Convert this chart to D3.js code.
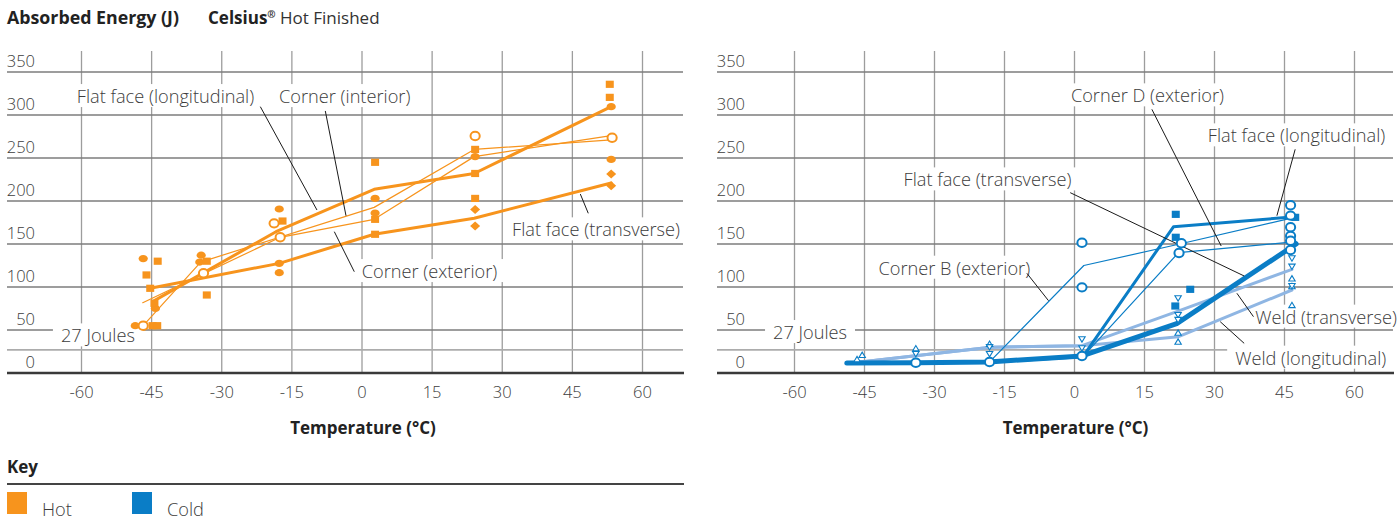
<!DOCTYPE html>
<html>
<head>
<meta charset="utf-8">
<script src="https://cdn.jsdelivr.net/npm/d3@7"></script>
<style>
  html, body { margin: 0; padding: 0; background: #fff; }
  svg { display: block; font-family: "Open Sans", "DejaVu Sans", sans-serif; }
</style>
</head>
<body>
<svg id="chart" width="1400" height="526"></svg>
<script>
// ---------- axis ticks ----------
const temperatureTicks = [-60, -45, -30, -15, 0, 15, 30, 45, 60];
const temperatureTickLabels = ["-60", "-45", "-30", "-15", "0", "15", "30", "45", "60"];
const energyTicks = [0, 50, 100, 150, 200, 250, 300, 350];
const joulesLimit = 27;

// ---------- Hot finished: mean curves [°C, J] ----------
const hotFlatLong   = [[-44.8, 83], [-18.4, 164.3], [2.6, 213.6], [24, 232], [53.3, 309.7]];
const hotFlatTrans  = [[-45.3, 98.5], [-17.7, 127.5], [2.6, 161.3], [24, 180], [53.3, 221]];
const hotCornerInt  = [[-46.8, 55], [-34.5, 129], [2.6, 192.6], [24, 260], [53.3, 271]];
const hotCornerExt  = [[-46.9, 81.7], [-17.5, 157.8], [2.6, 178.7], [24, 251.6], [53.3, 276]];

// Hot finished: individual specimens
const hotDots     = [[-46.8, 133], [-48.5, 55], [-44.2, 75], [-34.4, 137], [-34.7, 129], [-17.7, 190.7],
                     [-17.7, 127.5], [-17.7, 116.6], [2.8, 203], [2.8, 186], [24.2, 251.6], [53.3, 309.7], [53.3, 248.4]];
const hotSquares  = [[-43.7, 130], [-46.1, 114], [-45.3, 98.5], [-44.4, 81], [-44.8, 55], [-43.8, 55],
                     [-33.2, 130], [-33.2, 90.7], [-17, 176.7], [2.8, 245], [2.8, 178.7], [2.8, 161.3],
                     [24.2, 260], [24.2, 232], [24.2, 203], [53, 335.7], [53, 320.5]];
const hotRings    = [[-46.8, 55], [-33.9, 116], [-18.8, 174], [-17.5, 157.8], [24.2, 275.6], [53.5, 273.6]];
const hotDiamonds = [[24.2, 190], [24.2, 171], [53.3, 231.4], [53.3, 217.8]];

// ---------- Cold finished: mean curves ----------
const coldFlatLong  = [[-48.8, 11.5], [-33.8, 12], [-18.4, 12.8], [1.8, 19], [21.2, 170], [47.3, 181.7]];
const coldFlatTrans = [[-48.8, 11.5], [-33.8, 12], [-18.4, 12.8], [1.6, 19.8], [21.9, 57.5], [47.5, 150]];
const coldCornerB   = [[-18.2, 13], [2, 125], [21.6, 148.8], [46.5, 180]];
const coldCornerD   = [[1.8, 19], [22.3, 140], [47.5, 152.7]];
const coldWeldTrans = [[-47.3, 12], [-18, 29.9], [1.6, 31.8], [21.9, 71.3], [46.6, 120.6]];
const coldWeldLong  = [[-47.3, 12], [-18, 29.9], [1.6, 31.8], [22.3, 42.2], [46.6, 96.5]];

// Cold finished: individual specimens
const coldRings    = [[1.6, 151.5], [1.6, 99.6], [-34, 12], [-18.2, 12.8], [1.6, 19.8], [22.9, 150.8], [22.4, 139.5],
                      [46.3, 195], [46.3, 183], [46.3, 169.4], [46.3, 159.3], [46.3, 153.8], [46.3, 143]];
const coldSquares  = [[21.7, 184.5], [21.7, 157.8], [24.8, 97.3], [21.6, 77.9], [47.3, 181]];
const coldTriDown  = [[-34, 22], [-18.2, 30], [-18.2, 22], [1.6, 39.2], [1.6, 28.7], [22.2, 86.8], [22.2, 67.4],
                      [22.2, 61.6], [46.6, 133.3], [46.6, 123.6], [46.6, 101]];
const coldTriUp    = [[-46.6, 16], [-45.5, 21], [-34, 28.7], [-18.2, 34], [22.2, 46.9], [22.2, 36.4],
                      [46.6, 110], [46.6, 101], [46.6, 79]];

// ---------- styling ----------
const HOT = "#f7941d";
const COLD = "#0a7dc6";
const WELD = "#8fb6e3";
const INK = "#3c3c3c";
const LABEL_SIZE = 18.2;

const svg = d3.select("#chart");

const y = d3.scaleLinear().domain([0, 350]).range([373, 72]);

const panels = [
  {
    left: 7, right: 683,
    x: d3.scaleLinear().domain([-60, 60]).range([81.5, 642.5]),
    series: [
      { pts: hotCornerInt, color: HOT, w: 1.2 },
      { pts: hotCornerExt, color: HOT, w: 1.2 },
      { pts: hotFlatTrans, color: HOT, w: 3 },
      { pts: hotFlatLong,  color: HOT, w: 3 }
    ],
    markers: { dots: hotDots, squares: hotSquares, rings: hotRings, diamonds: hotDiamonds, up: [], down: [] },
    color: HOT,
    joules: { t: -64.4, e: 43 },
    labels: [
      { text: "Flat face (longitudinal)", t: -61, e: 321.3, from: [-21.75, 309.7], to: [-9.63, 189.5] },
      { text: "Corner (interior)",        t: -17.75, e: 321.3, from: [-7.85, 304.7], to: [-3.42, 182.9] },
      { text: "Corner (exterior)",        t: -0.06, e: 117.8, from: [-1.65, 117.8], to: [-5.92, 164.3] },
      { text: "Flat face (transverse)",   t: 32.1, e: 166.3, from: [48.4, 185.7], to: [46.7, 208.1] }
    ]
  },
  {
    left: 717, right: 1393,
    x: d3.scaleLinear().domain([-60, 60]).range([794.5, 1354.5]),
    series: [
      { pts: coldWeldLong,  color: WELD, w: 3 },
      { pts: coldWeldTrans, color: WELD, w: 3 },
      { pts: coldCornerB,   color: COLD, w: 1.2 },
      { pts: coldCornerD,   color: COLD, w: 1.2 },
      { pts: coldFlatLong,  color: COLD, w: 3 },
      { pts: coldFlatTrans, color: COLD, w: 5 }
    ],
    markers: { dots: [], squares: coldSquares, rings: coldRings, diamonds: [], up: coldTriUp, down: coldTriDown },
    color: COLD,
    joules: { t: -64.6, e: 46.9 },
    labels: [
      { text: "Corner D (exterior)",      t: -0.77, e: 322.1, from: [16.58, 306.6], to: [31.43, 147.7] },
      { text: "Flat face (longitudinal)", t: 28.58, e: 275.6, from: [47.29, 260.1], to: [43.37, 182.9] },
      { text: "Flat face (transverse)",   t: -36.64, e: 224.4, from: [-0.92, 209.7], to: [36.36, 112.8] },
      { text: "Corner B (exterior)",      t: -42, e: 121.7, from: [-10.2, 115.9], to: [-5.57, 84.1] },
      { text: "Weld (transverse)",        t: 38.72, e: 64.8, from: [38.35, 65.5], to: [34.8, 92.7] },
      { text: "Weld (longitudinal)",      t: 34.43, e: 17.1, from: [36.36, 34.5], to: [31.22, 59.7] }
    ]
  }
];

// ---------- header ----------
svg.append("text").attr("x", 7).attr("y", 18).attr("dy", "0.35em")
  .attr("font-size", 17.8).attr("font-weight", 700).attr("fill", "#222")
  .text("Absorbed Energy (J)");
const sub = svg.append("text").attr("x", 208).attr("y", 18).attr("dy", "0.35em")
  .attr("font-size", 17).attr("fill", "#333");
sub.append("tspan").attr("font-weight", 700).attr("fill", "#222").text("Celsius");
sub.append("tspan").attr("font-weight", 700).attr("font-size", 10).attr("dy", "-0.6em").text("®");
sub.append("tspan").attr("dy", "0.35em").attr("font-weight", 400).text(" Hot Finished");

panels.forEach(p => {
  const g = svg.append("g");
  const x = p.x;
  const line = d3.line().x(d => x(d[0])).y(d => y(d[1]));

  // vertical grid
  g.append("g").selectAll("line").data(temperatureTicks).join("line")
    .attr("x1", d => x(d)).attr("x2", d => x(d))
    .attr("y1", 51).attr("y2", y(0))
    .attr("stroke", "#9d9d9d").attr("stroke-width", 1.3);

  // horizontal grid
  g.append("g").selectAll("line").data(energyTicks.filter(d => d > 0)).join("line")
    .attr("x1", p.left).attr("x2", p.right)
    .attr("y1", d => y(d)).attr("y2", d => y(d))
    .attr("stroke", "#7d7d7d").attr("stroke-width", 1.3);

  // 27 J reference
  g.append("line")
    .attr("x1", p.left).attr("x2", p.right)
    .attr("y1", y(joulesLimit)).attr("y2", y(joulesLimit))
    .attr("stroke", "#acacac").attr("stroke-width", 1.8);

  // base axis
  g.append("line")
    .attr("x1", p.left).attr("x2", p.right + 1)
    .attr("y1", y(0)).attr("y2", y(0))
    .attr("stroke", "#3a3a3a").attr("stroke-width", 2.5);

  // y tick labels (sit above their gridline)
  g.append("g").selectAll("text").data(energyTicks).join("text")
    .attr("x", p.left + 28).attr("y", d => y(d) - 5)
    .attr("text-anchor", "end").attr("font-size", 16.5).attr("font-weight", 300)
    .attr("fill", INK).text(d => d);

  // x tick labels
  g.append("g").selectAll("text").data(temperatureTicks).join("text")
    .attr("x", d => x(d)).attr("y", 392).attr("dy", "0.35em")
    .attr("text-anchor", "middle").attr("font-size", 16.5).attr("font-weight", 300)
    .attr("fill", INK).text((d, i) => temperatureTickLabels[i]);

  g.append("text").attr("x", x(0) + 1).attr("y", 428).attr("dy", "0.35em")
    .attr("text-anchor", "middle").attr("font-size", 17).attr("font-weight", 700)
    .attr("fill", "#222").text("Temperature (°C)");

  // annotation labels with white backing
  const annot = p.labels.concat([{ text: "27 Joules", t: p.joules.t, e: p.joules.e }]);
  const lg = g.append("g");
  annot.forEach(a => {
    const bg = lg.append("rect").attr("fill", "#fff");
    const t = lg.append("text").attr("x", x(a.t)).attr("y", y(a.e)).attr("dy", "0.35em")
      .attr("font-size", LABEL_SIZE).attr("font-weight", 300).attr("fill", INK).text(a.text);
    const b = t.node().getBBox();
    bg.attr("x", b.x - 8).attr("y", b.y).attr("width", b.width + 16).attr("height", b.height - 1);
  });

  // curves
  g.append("g").selectAll("path").data(p.series).join("path")
    .attr("d", s => line(s.pts)).attr("fill", "none")
    .attr("stroke", s => s.color).attr("stroke-width", s => s.w)
    .attr("stroke-linejoin", "round").attr("stroke-linecap", "round");

  // leader lines
  g.append("g").selectAll("line").data(p.labels).join("line")
    .attr("x1", a => x(a.from[0])).attr("y1", a => y(a.from[1]))
    .attr("x2", a => x(a.to[0])).attr("y2", a => y(a.to[1]))
    .attr("stroke", "#1a1a1a").attr("stroke-width", 1);

  // specimen markers
  const m = g.append("g");
  const c = p.color;
  m.selectAll(".dot").data(p.markers.dots).join("ellipse")
    .attr("cx", d => x(d[0])).attr("cy", d => y(d[1])).attr("rx", 4.6).attr("ry", 3.6).attr("fill", c);
  m.selectAll(".sq").data(p.markers.squares).join("rect")
    .attr("x", d => x(d[0]) - 4).attr("y", d => y(d[1]) - 3.6).attr("width", 8).attr("height", 7.2).attr("fill", c);
  m.selectAll(".dia").data(p.markers.diamonds).join("path")
    .attr("d", d => { const cx = x(d[0]), cy = y(d[1]); return `M${cx - 5},${cy}L${cx},${cy - 4.5}L${cx + 5},${cy}L${cx},${cy + 4.5}Z`; })
    .attr("fill", c);
  m.selectAll(".ring").data(p.markers.rings).join("ellipse")
    .attr("cx", d => x(d[0])).attr("cy", d => y(d[1])).attr("rx", 4.6).attr("ry", 4.2)
    .attr("fill", "#fff").attr("stroke", c).attr("stroke-width", 2);
  m.selectAll(".up").data(p.markers.up).join("path")
    .attr("d", d => { const cx = x(d[0]), cy = y(d[1]); return `M${cx - 3.2},${cy + 2.6}L${cx + 3.2},${cy + 2.6}L${cx},${cy - 2.8}Z`; })
    .attr("fill", "#fff").attr("stroke", c).attr("stroke-width", 1.1);
  m.selectAll(".down").data(p.markers.down).join("path")
    .attr("d", d => { const cx = x(d[0]), cy = y(d[1]); return `M${cx - 3.2},${cy - 2.6}L${cx + 3.2},${cy - 2.6}L${cx},${cy + 2.8}Z`; })
    .attr("fill", "#fff").attr("stroke", c).attr("stroke-width", 1.1);
});

// ---------- key ----------
svg.append("text").attr("x", 7).attr("y", 467).attr("dy", "0.35em")
  .attr("font-size", 17).attr("font-weight", 700).attr("fill", "#222").text("Key");
svg.append("line").attr("x1", 7).attr("x2", 684).attr("y1", 484).attr("y2", 484)
  .attr("stroke", "#444").attr("stroke-width", 1.8);
const keyItems = [{ label: "Hot", color: HOT, x: 7 }, { label: "Cold", color: COLD, x: 132 }];
const key = svg.append("g").selectAll("g").data(keyItems).join("g");
key.append("rect").attr("x", d => d.x).attr("y", 492).attr("width", 20).attr("height", 22).attr("fill", d => d.color);
key.append("text").attr("x", d => d.x + 35).attr("y", 510).attr("dy", "0.35em")
  .attr("font-size", LABEL_SIZE).attr("font-weight", 300).attr("fill", INK).text(d => d.label);
</script>
</body>
</html>
